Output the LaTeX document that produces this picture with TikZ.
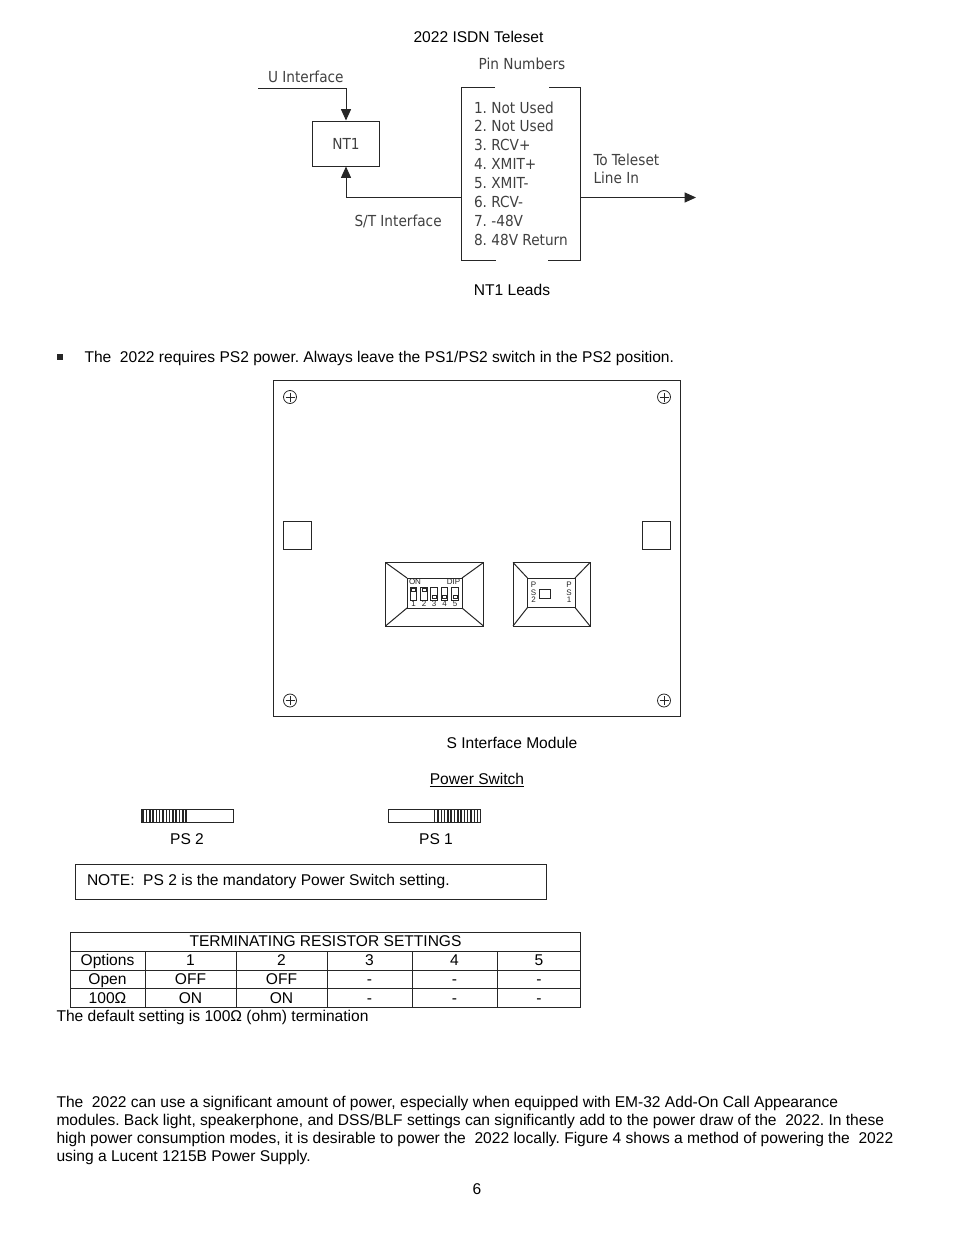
\documentclass[tikz,border=0pt]{standalone}
\usepackage{fontspec}
\setmainfont{Liberation Sans}
\newfontfamily\sketchfont{DejaVu Sans Condensed}
\usetikzlibrary{positioning,arrows.meta}
\frenchspacing
\tikzset{
  txt/.style={inner sep=0pt,text=black,text height=9pt,text depth=1pt,font=\fontsize{11.68}{13}\selectfont},
  sketch/.style={inner sep=0pt,text=black!75,font=\fontsize{11.4}{14.14}\sketchfont},
  tiny/.style={inner sep=0pt,text=black!85,font=\fontsize{6}{5.6}\selectfont},
  tip/.style={-{Triangle[length=8.5pt,width=7.5pt]}}
}
\begin{document}
\begin{tikzpicture}[x=0.75pt,y=-0.75pt,line width=0.75pt,black!85]
\useasboundingbox (0,0) rectangle (954,1235);
% NT1 diagram
\node[txt] (title) at (478.5,37) {2022 ISDN Teleset};
\node[sketch] (pinhead) at (522,64) {Pin Numbers};
\node[sketch,anchor=west] (uiface) at (267.5,77) {U Interface};
\node[draw,minimum width=67.5*0.75pt,minimum height=45*0.75pt,sketch] (nt1) at (346,143.5) {NT1};
\coordinate (ustart) at (258,88);
\draw[tip] (ustart) -| (nt1.north);
\node[sketch,anchor=west] (stiface) at (354,221) {S/T Interface};
\node[sketch,align=left,anchor=north west] (pins) at (473.5,101) {1. Not Used\\2. Not Used\\3. RCV+\\4. XMIT+\\5. XMIT-\\6. RCV-\\7. -48V\\8. 48V Return};
\draw (495,87.5) -- (461.5,87.5) -- (461.5,260.5) -- (496,260.5);
\draw (549,87.5) -- (580,87.5) -- (580,260.5) -- (548,260.5);
\coordinate (stin) at (461.5,197.5);
\coordinate (stout) at (580,197.5);
\coordinate (teleset) at (696,197.5);
\draw[tip] (stin) -| (nt1.south);
\draw[tip] (stout) -- (teleset);
\node[sketch,align=left,anchor=north west] (toline) at (593,153) {To Teleset\\Line In};
\node[txt] (leads) at (512,290) {NT1 Leads};
% bullet line
\fill (57,354) rectangle (62.5,360);
\node[txt,anchor=west] (bullet) at (84,357) {The\ \ 2022 requires PS2 power. Always leave the PS1/PS2 switch in the PS2 position.};
% module
\draw (273.5,380.5) rectangle (680.5,716.5);
\foreach \x/\y in {290/397,664/397,290/700.5,664/700.5} {
  \draw[line width=0.6pt] (\x,\y) circle (6.5);
  \draw[line width=0.5pt] (\x-4.5,\y) -- (\x+4.5,\y) (\x,\y-4.5) -- (\x,\y+4.5);
}
\draw (283.5,521.5) rectangle (311,549);
\draw (642.5,521.5) rectangle (670,549);
% dip switch
\draw (385.5,562.5) rectangle (483.5,626);
\draw (407,578) rectangle (462,608);
\draw (385.5,562.5) -- (407,578) (483.5,562.5) -- (462,578) (385.5,626) -- (407,608) (483.5,626) -- (462,608);
\foreach \x/\n/\k in {413.5/1/589.5,424/2/589.5,434/3/596.5,444.5/4/596.5,455/5/596.5} {
  \draw[line width=0.5pt] (\x-3.2,587) rectangle (\x+3.2,600);
  \draw[line width=0.5pt] (\x-2,\k-1.5) rectangle (\x+2,\k+1.5);
  \node[tiny] at (\x,604) {\n};
}
\node[tiny] (on) at (415,582) {ON};
\node[tiny] (dip) at (453.5,582) {DIP};
% ps switch
\draw (513,562.5) rectangle (590,626);
\draw (527.5,578) rectangle (575,607.5);
\draw (513,562.5) -- (527.5,578) (590,562.5) -- (575,578) (513,626) -- (527.5,607.5) (590,626) -- (575,607.5);
\draw[line width=0.5pt] (539,589) rectangle (550,598);
\node[tiny,align=center] (pstwo) at (533.5,592.5) {P\\S\\2};
\node[tiny,align=center] (psone) at (569,592.5) {P\\S\\1};
\node[txt] (module) at (512,743) {S Interface Module};
\node[txt] (power) at (477,779) {\underline{Power Switch}};
% power switch settings
\draw (141.5,809.5) rectangle (233.5,822);
\foreach \x in {142.5,143.5,146.5,149.8,...,187.5} \draw[line width=1.1pt] (\x,809.5) -- (\x,822);
\draw (388.5,809.5) rectangle (480.5,822);
\foreach \x in {434.5,438,441.3,...,480} \draw[line width=1.1pt] (\x,809.5) -- (\x,822);
\node[txt] (pstwolabel) at (187,839) {PS 2};
\node[txt] (psonelabel) at (436,839) {PS 1};
\draw (75,864.5) rectangle (546.5,899.5);
\node[txt,anchor=west] (note) at (86.5,880) {NOTE:\ \ PS 2 is the mandatory Power Switch setting.};
% table
\draw (70.5,932.5) rectangle (580.5,1007);
\foreach \y in {951,970,988.5} \draw (70.5,\y) -- (580.5,\y);
\foreach \x in {145.5,236.5,327,412,497} \draw (\x,951) -- (\x,1007);
\node[txt] (tablehead) at (325.5,941) {TERMINATING RESISTOR SETTINGS};
\foreach \x/\a/\b/\c in {107.5/Options/Open/100Ω,190.5/1/OFF/ON,281.5/2/OFF/ON,369.5/3/-/-,454.5/4/-/-,539/5/-/-} {
  \node[txt] at (\x,960.5) {\a};
  \node[txt] at (\x,979) {\b};
  \node[txt] at (\x,998) {\c};
}
\node[txt,anchor=west] (default) at (56,1016) {The default setting is 100Ω (ohm) termination};
% text
\node[txt,anchor=west] (parone) at (56,1102) {The\ \ 2022 can use a significant amount of power, especially when equipped with EM-32 Add-On Call Appearance};
\node[txt,anchor=west] (partwo) at (56,1120) {modules. Back light, speakerphone, and DSS/BLF settings can significantly add to the power draw of the\ \ 2022. In these};
\node[txt,anchor=west] (parthree) at (56,1138) {high power consumption modes, it is desirable to power the\ \ 2022 locally. Figure 4 shows a method of powering the\ \ 2022};
\node[txt,anchor=west] (parfour) at (56,1156) {using a Lucent 1215B Power Supply.};
\node[txt] (pageno) at (477,1189.5) {6};
\end{tikzpicture}
\end{document}
